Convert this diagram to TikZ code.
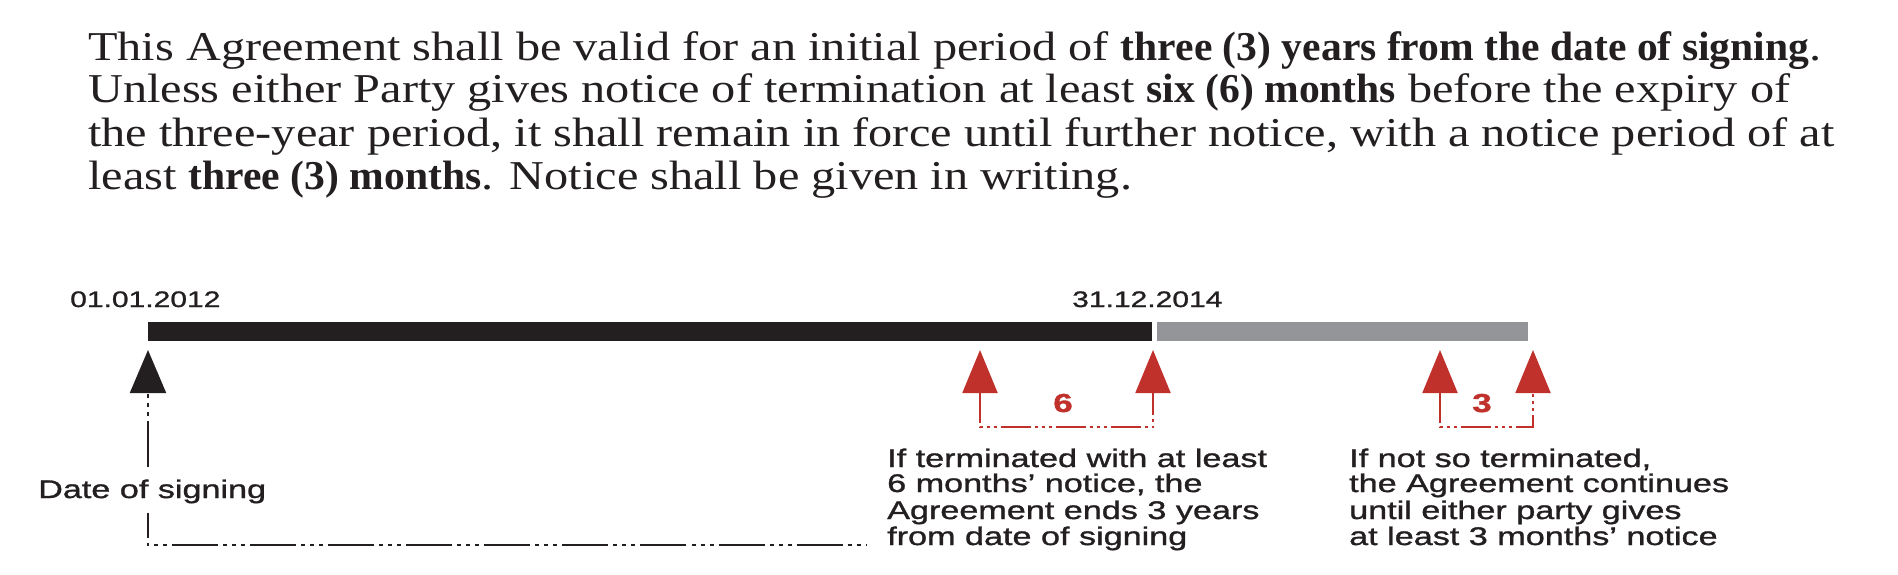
\documentclass[tikz,border=0pt]{standalone}
\usepackage{fontspec}
\usepackage{xcolor}
\usepackage{tikz}
\usetikzlibrary{arrows.meta,calc}
\newfontfamily\parafont{Liberation Serif}[FakeStretch=1.178]
\newfontfamily\parabold{Liberation Serif Bold}[FakeStretch=1.015]
\newfontfamily\lblfont{Liberation Sans}[FakeStretch=1.34,FakeBold=1.2]
\newcommand{\pbold}[1]{{\parabold #1}}
\definecolor{ink}{HTML}{231F20}
\definecolor{termred}{HTML}{C1312B}
\definecolor{bargray}{HTML}{939598}
\tikzset{
  ptext/.style={font=\parafont\fontsize{41}{43}\selectfont,text=ink,anchor=base west,inner sep=0pt},
  tlbl/.style={font=\lblfont\fontsize{25.5}{26}\selectfont,text=ink,anchor=base west,inner sep=0pt},
  tdate/.style={font=\lblfont\fontsize{22.4}{24}\selectfont,text=ink,anchor=base west,inner sep=0pt},
  tnum/.style={font=\lblfont\bfseries\fontsize{26}{26}\selectfont,text=termred,anchor=base,inner sep=0pt},
  sigarr/.style={-{Triangle[width=36pt,length=43pt]},line width=2pt,draw=ink,
    dash pattern=on 46pt off 5pt on 4pt off 5pt on 4pt off 5pt on 4pt off 5pt},
  siglink/.style={line width=2pt,draw=ink,
    dash pattern=on 46pt off 5pt on 4pt off 5pt on 4pt off 5pt on 4pt off 5pt,dash phase=21pt},
  redlink/.style={{Triangle[width=35pt,length=43pt]}-{Triangle[width=35pt,length=43pt]},
    line width=2pt,draw=termred,
    dash pattern=on 30pt off 4pt on 3pt off 4pt on 3pt off 4pt on 3pt off 4pt}
}
\begin{document}
\begin{tikzpicture}[x=1pt,y=-1pt]
  \useasboundingbox (0,0) rectangle (1898,574);
  % clause text
  \foreach \y/\txt/\nm in {
      60/{This Agreement shall be valid for an initial period of \pbold{three (3) years from the date of signing}.}/par1,
      102/{Unless either Party gives notice of termination at least \pbold{six (6) months} before the expiry of}/par2,
      146/{the three-year period, it shall remain in force until further notice, with a notice period of at}/par3,
      189/{least \pbold{three (3) months}. Notice shall be given in writing.}/par4}{
    \node[ptext] (\nm) at (88,\y) {\txt};
  }
  % timeline
  \node[tdate] (d0) at (70,307) {01.01.2012};
  \node[tdate] (d3) at (1072,307) {31.12.2014};
  \fill[ink] (148,322) rectangle (1152,341);
  \fill[bargray] (1157,322) rectangle (1528,341);
  \coordinate (sigtip) at (148,350);
  \coordinate (n6a) at (980,350);
  \coordinate (n6b) at (1153,350);
  \coordinate (n3a) at (1440,350);
  \coordinate (n3b) at (1533,350);
  % signing
  \node[tlbl] (dsig) at (38,498) {Date of signing};
  \draw[sigarr] ([yshift=12pt]dsig.north -| sigtip) -- (sigtip);
  % notice periods
  \draw[redlink] (n6a) -- ++(0,77) -| (n6b);
  \draw[redlink] (n3a) -- ++(0,77) -| (n3b);
  \node[tnum] (m6) at (1063,412) {6};
  \node[tnum] (m3) at (1482,412) {3};
  \foreach \y/\txt/\nm in {467/{If terminated with at least}/t1a,492/{6 months’ notice, the}/t1b,
      519/{Agreement ends 3 years}/t1c,545/{from date of signing}/t1d}{
    \node[tlbl] (\nm) at (887,\y) {\txt};
  }
  \foreach \y/\txt/\nm in {467/{If not so terminated,}/t2a,492/{the Agreement continues}/t2b,
      519/{until either party gives}/t2c,545/{at least 3 months’ notice}/t2d}{
    \node[tlbl] (\nm) at (1349,\y) {\txt};
  }
  \draw[siglink] ([yshift=-9pt]dsig.south -| sigtip) |- ([xshift=-21pt]t1d.base west);
\end{tikzpicture}
\end{document}
